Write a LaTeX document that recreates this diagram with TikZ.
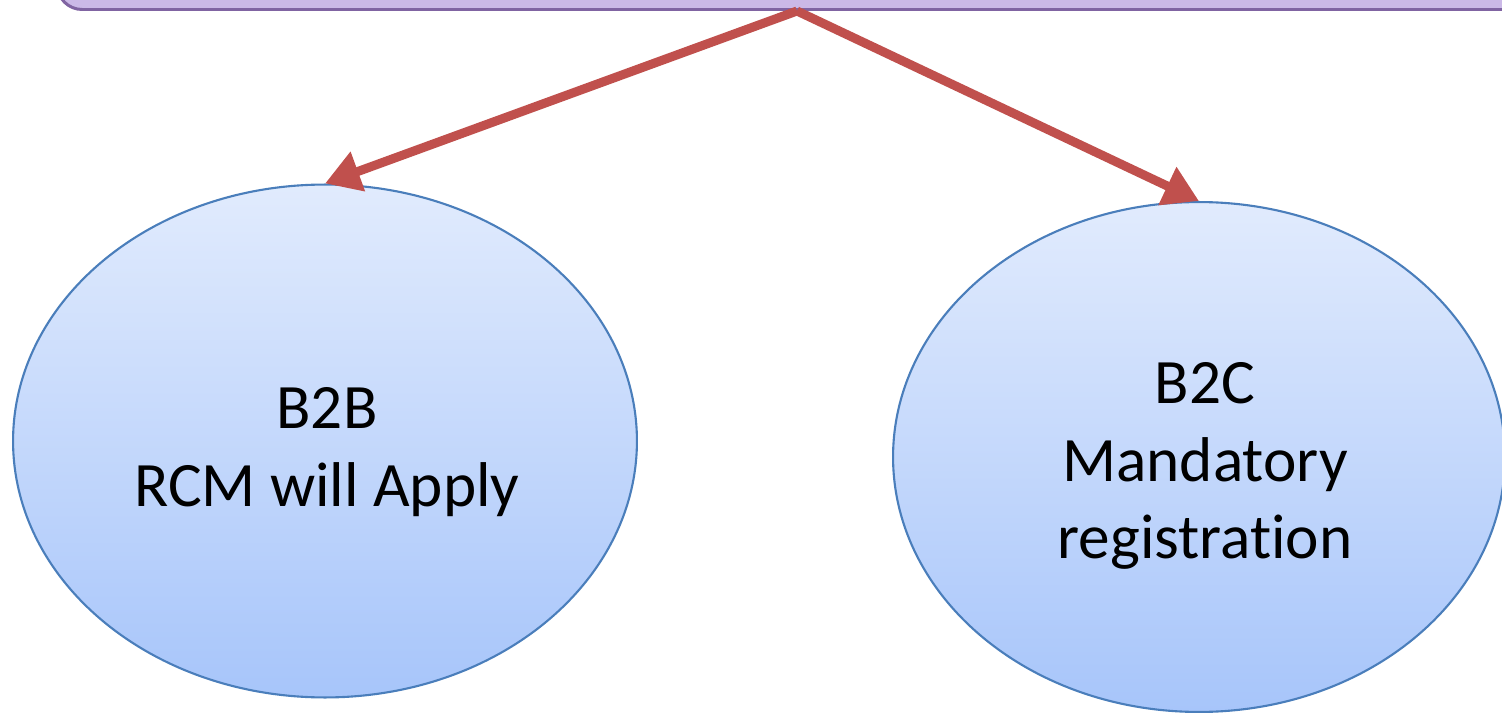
\documentclass[tikz,border=0pt]{standalone}
\usepackage{fontspec}
\setmainfont[Ligatures=NoCommon]{Carlito}
\usetikzlibrary{arrows.meta, shapes.geometric}
\definecolor{boxfill}{HTML}{CBB9E7}
\definecolor{boxline}{HTML}{8064A2}
\definecolor{arrowred}{HTML}{C0504D}
\definecolor{ovaltop}{HTML}{E1EBFD}
\definecolor{ovalbottom}{HTML}{A7C5FA}
\definecolor{ovalline}{HTML}{4A7EBB}

\begin{document}
\begin{tikzpicture}[x=0.02cm, y=-0.02cm, line width=1.2pt,
  oval/.style={ellipse, draw=ovalline, top color=ovaltop, bottom color=ovalbottom, inner sep=0pt},
  oval text/.style={align=center, inner sep=0pt, font=\fontsize{36}{44}\selectfont},
  link/.style={arrowred, line width=0.18cm, -{Triangle[length=0.7cm, width=0.8cm]}}]
\useasboundingbox (0,0) rectangle (1502,713);

% 上方的框
\node (top) [draw=boxline, line width=1.7pt, fill=boxfill, rounded corners=0.5cm,
  minimum width=29.6cm, minimum height=2cm, anchor=south] at (797,11) {};

% 两个椭圆
\node (b2b) [oval, minimum width=12.48cm, minimum height=10.26cm] at (325,441) {};
\node (b2c) [oval, minimum width=12.24cm, minimum height=10.2cm] at (1199,457) {};

% 椭圆里的字
\node (b2btext) [oval text] at (327,452) {B2B\\RCM will Apply};
\node (b2ctext) [oval text] at (1205,466) {B2C\\Mandatory\\registration};

% 箭头
\draw[link] (top.south) -- (b2b.north);
\draw[link] (top.south) -- (b2c.north);
\end{tikzpicture}
\end{document}
